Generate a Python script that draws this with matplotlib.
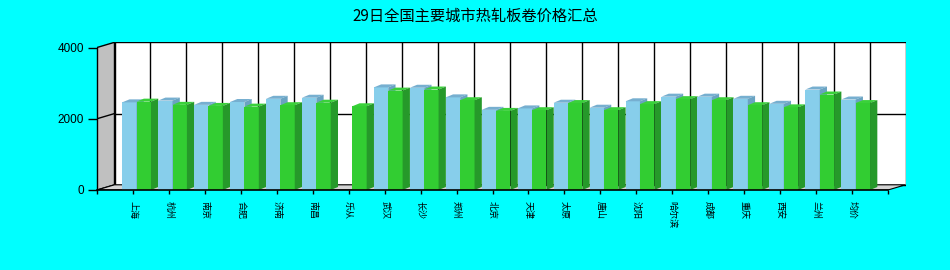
import matplotlib
matplotlib.use('Agg')
import matplotlib.pyplot as plt
from matplotlib.patches import Polygon

plt.rcParams['font.family'] = ['Noto Sans CJK SC', 'DejaVu Sans']

# Data
cities = ['上海', '杭州', '南京', '合肥', '济南', '南昌', '乐从', '武汉', '长沙', '郑州',
          '北京', '天津', '太原', '唐山', '沈阳', '哈尔滨', '成都', '重庆', '西安', '兰州', '均价']
prev_price = [2460, 2510, 2390, 2470, 2560, 2590, 0, 2880, 2870, 2600,
              2250, 2290, 2450, 2310, 2490, 2620, 2620, 2560, 2420, 2820, 2540]
curr_price = [2480, 2390, 2360, 2340, 2380, 2450, 2350, 2790, 2820, 2520,
              2220, 2240, 2440, 2240, 2410, 2550, 2520, 2380, 2320, 2680, 2440]
y_ticks = [0, 2000, 4000]
title = '29日全国主要城市热轧板卷价格汇总'

# pixel layout of the 3D box
W, H = 950, 270
px_left, px_right, px_bottom, px_top = 97, 888, 190, 47.5
n_slots = len(cities) + 1
ymax = 4000
ux = (px_right - px_left) / n_slots      # px per category
uy = (px_bottom - px_top) / ymax         # px per value unit
DX = 17.5 / ux                           # box depth in data units
DY = 5.2 / uy
BDX = 7.3 / ux                           # bar depth
BDY = 3.0 / uy

fig = plt.figure(figsize=(W / 100, H / 100), dpi=100)
fig.patch.set_facecolor('#00FFFF')
ax_w = (n_slots + DX) * ux
ax_h = (ymax + DY) * uy
ax = fig.add_axes([px_left / W, (H - px_bottom) / H, ax_w / W, ax_h / H])
ax.set_xlim(0, n_slots + DX)
ax.set_ylim(0, ymax + DY)
ax.patch.set_visible(False)
for s in ax.spines.values():
    s.set_visible(False)

# walls and floor
ax.add_patch(Polygon([(DX, DY), (n_slots + DX, DY), (n_slots + DX, ymax + DY), (DX, ymax + DY)],
                     closed=True, facecolor='white', edgecolor='black', lw=1, zorder=1))
ax.add_patch(Polygon([(0, 0), (DX, DY), (DX, ymax + DY), (0, ymax)],
                     closed=True, facecolor='#C0C0C0', edgecolor='black', lw=1, zorder=1))
ax.add_patch(Polygon([(0, 0), (n_slots, 0), (n_slots + DX, DY), (DX, DY)],
                     closed=True, facecolor='#D4D4D4', edgecolor='black', lw=0.8, zorder=1))

# grid on back wall and left wall
for k in range(1, n_slots):
    ax.plot([DX + k, DX + k], [DY, ymax + DY], color='black', lw=1, zorder=2)
for v in y_ticks[1:-1]:
    ax.plot([DX, n_slots + DX], [v + DY, v + DY], color='black', lw=1, zorder=2)
    ax.plot([0, DX], [v, v + DY], color='black', lw=1, zorder=2)


def bar3d(x0, x1, v, front, top, side):
    if v <= 0:
        return
    ax.add_patch(Polygon([(x0, 0), (x1, 0), (x1, v), (x0, v)], closed=True,
                         facecolor=front, edgecolor='none', zorder=3))
    ax.add_patch(Polygon([(x0, v), (x1, v), (x1 + BDX, v + BDY), (x0 + BDX, v + BDY)], closed=True,
                         facecolor=top, edgecolor='none', zorder=3))
    ax.add_patch(Polygon([(x1, 0), (x1 + BDX, BDY), (x1 + BDX, v + BDY), (x1, v)], closed=True,
                         facecolor=side, edgecolor='none', zorder=3))


for i, (a, b) in enumerate(zip(prev_price, curr_price)):
    k = i + 1
    bar3d(k - 0.30, k + 0.10, a, '#87CEEB', '#76AFD0', '#6AA3C2')
    bar3d(k + 0.10, k + 0.50, b, '#32CD32', '#3AD13A', '#26992A')

# front axis lines
ax.plot([0, 0], [0, ymax], color='black', lw=1, zorder=4, clip_on=False)
ax.plot([0, n_slots], [0, 0], color='black', lw=1.2, zorder=4, clip_on=False)

ax.set_yticks(y_ticks)
ax.set_yticklabels([str(v) for v in y_ticks], family='Liberation Sans', fontsize=8.5)
ax.tick_params(axis='y', length=6.5, width=1, pad=3, colors='black')

ax.set_xticks(range(0, n_slots + 1))
ax.set_xticklabels([''] + cities + [''], rotation=270, fontsize=6.5)
ax.tick_params(axis='x', length=3, width=1, pad=5, colors='black')

fig.text(0.5, 1 - 16.5 / H, title, ha='center', va='center', fontsize=11, color='black')

fig.savefig('out.png', dpi=100, facecolor=fig.get_facecolor())
